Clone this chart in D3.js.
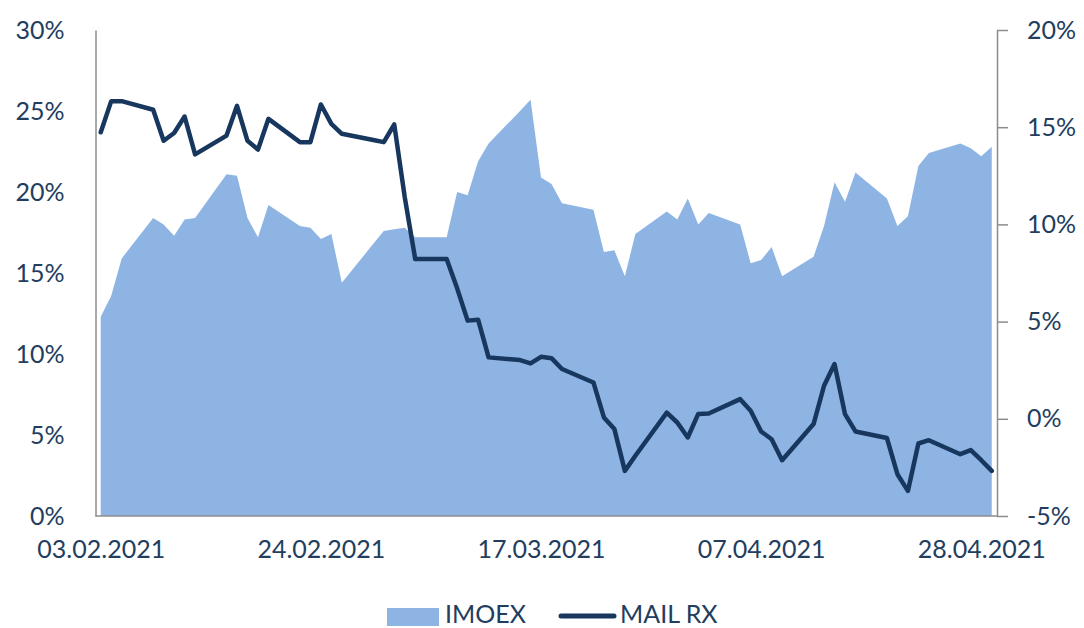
<!DOCTYPE html>
<html>
<head>
<meta charset="utf-8">
<script src="https://cdn.jsdelivr.net/npm/d3@7"></script>
<style>
    html, body { margin: 0; padding: 0; background: #fff; }
    svg text { font-family: Lato, "Noto Sans", sans-serif; fill: #223d5e; }
</style>
</head>
<body>
<svg id="svg-container" width="1084" height="628"></svg>
<script>
var DATES = [
    "03.02.2021", "04.02.2021", "05.02.2021", "08.02.2021", "09.02.2021", "10.02.2021", "11.02.2021", "12.02.2021",
    "15.02.2021", "16.02.2021", "17.02.2021", "18.02.2021", "19.02.2021", "22.02.2021", "23.02.2021", "24.02.2021",
    "25.02.2021", "26.02.2021",
    "01.03.2021", "02.03.2021", "03.03.2021", "04.03.2021", "05.03.2021", "08.03.2021", "09.03.2021", "10.03.2021",
    "11.03.2021", "12.03.2021", "15.03.2021", "16.03.2021", "17.03.2021", "18.03.2021", "19.03.2021", "22.03.2021",
    "23.03.2021", "24.03.2021", "25.03.2021", "26.03.2021", "29.03.2021", "30.03.2021", "31.03.2021",
    "01.04.2021", "02.04.2021", "05.04.2021", "06.04.2021", "07.04.2021", "08.04.2021", "09.04.2021", "12.04.2021",
    "13.04.2021", "14.04.2021", "15.04.2021", "16.04.2021", "19.04.2021", "20.04.2021", "21.04.2021", "22.04.2021",
    "23.04.2021", "26.04.2021", "27.04.2021", "28.04.2021", "29.04.2021"
];

// % change, left axis
var IMOEX = [
    12.3, 13.6, 15.9, 18.4, 18.0, 17.3, 18.3, 18.4, 21.1, 21.0, 18.4, 17.2, 19.2, 17.9, 17.8, 17.1, 17.4, 14.4,
    16.8, 17.6, 17.7, 17.8, 17.2, 17.2, 20.0, 19.8, 21.9, 23.0, 25.0, 25.7, 20.9, 20.5, 19.3, 18.9, 16.3, 16.4,
    14.8, 17.4, 18.8, 18.3, 19.6,
    18.0, 18.7, 18.0, 15.6, 15.8, 16.6, 14.8, 16.0, 17.9, 20.6, 19.4, 21.2, 19.6, 17.9, 18.5, 21.6, 22.4, 23.0,
    22.7, 22.2, 22.8
];

// % change, right axis
var MAIL_RX = [
    14.74, 16.34, 16.34, 15.9, 14.3, 14.7, 15.55, 13.6, 14.57, 16.1, 14.3, 13.85, 15.43, 14.23, 14.23, 16.17,
    15.17, 14.66,
    14.34, 14.23, 15.14, 11.4, 8.22, 8.22, 6.71, 5.05, 5.1, 3.16, 3.02, 2.85, 3.19, 3.12, 2.56, 1.87, 0.07, -0.53,
    -2.68, -1.9, 0.32, -0.19, -0.96,
    0.25, 0.27, 1.01, 0.41, -0.65, -1.05, -2.13, -0.27, 1.7, 2.82, 0.24, -0.65, -0.99, -2.85, -3.71, -1.27, -1.1,
    -1.82, -1.61, -2.13, -2.68
];

var X_TICKS = ["03.02.2021", "24.02.2021", "17.03.2021", "07.04.2021", "28.04.2021"];
var LEFT_TICKS = [0, 5, 10, 15, 20, 25, 30];
var RIGHT_TICKS = [-5, 0, 5, 10, 15, 20];
var LEGEND = ["IMOEX", "MAIL RX"];

var CHART = {
    LEFT: 95.5,
    RIGHT: 997,
    TOP: 30,
    BOTTOM: 516,
    FONT: 25,
    AREA_COLOR: "#8eb4e3",
    LINE_COLOR: "#17375e",
    AXIS_COLOR: "#8c8c8c"
};

var parseDate = d3.utcParse("%d.%m.%Y");
var rows = DATES.map(function (d, i) {
    return { date: parseDate(d), imoex: IMOEX[i], mail: MAIL_RX[i] };
});

var x = d3.scaleUtc()
    .domain([new Date(Date.UTC(2021, 1, 2, 12)), new Date(Date.UTC(2021, 3, 29, 12))])
    .range([CHART.LEFT, CHART.RIGHT]);
var yLeft = d3.scaleLinear().domain([0, 30]).range([CHART.BOTTOM, CHART.TOP]);
var yRight = d3.scaleLinear().domain([-5, 20]).range([CHART.BOTTOM, CHART.TOP]);

var svg = d3.select("#svg-container");

// IMOEX area
svg.append("path")
    .datum(rows)
    .attr("fill", CHART.AREA_COLOR)
    .attr("d", d3.area()
        .x(function (d) { return x(d.date); })
        .y0(yLeft(0))
        .y1(function (d) { return yLeft(d.imoex); }));

// axes
var leftAxis = svg.append("g")
    .attr("transform", "translate(" + CHART.LEFT + ",0)")
    .call(d3.axisLeft(yLeft).tickValues(LEFT_TICKS).tickSize(0).tickPadding(31)
        .tickFormat(function (d) { return d + "%"; }));

var rightAxis = svg.append("g")
    .attr("transform", "translate(" + CHART.RIGHT + ",0)")
    .call(d3.axisRight(yRight).tickValues(RIGHT_TICKS).tickSize(11).tickSizeOuter(0).tickPadding(19)
        .tickFormat(function (d) { return d + "%"; }));

var bottomAxis = svg.append("g")
    .attr("transform", "translate(0," + CHART.BOTTOM + ")")
    .call(d3.axisBottom(x).tickValues(X_TICKS.map(parseDate)).tickSize(0).tickPadding(24)
        .tickFormat(d3.utcFormat("%d.%m.%Y")));

[leftAxis, rightAxis, bottomAxis].forEach(function (g) {
    g.selectAll(".domain").attr("stroke", CHART.AXIS_COLOR).attr("stroke-width", 1.5);
    g.selectAll(".tick line").attr("stroke", CHART.AXIS_COLOR).attr("stroke-width", 1.5);
    g.selectAll(".tick text")
        .attr("font-family", "Lato, 'Noto Sans', sans-serif")
        .attr("font-size", CHART.FONT)
        .attr("fill", "#223d5e");
});
bottomAxis.selectAll(".domain").attr("d", "M" + CHART.LEFT + ",0H" + CHART.RIGHT);

// MAIL RX line
svg.append("path")
    .datum(rows)
    .attr("fill", "none")
    .attr("stroke", CHART.LINE_COLOR)
    .attr("stroke-width", 4.5)
    .attr("stroke-linejoin", "round")
    .attr("stroke-linecap", "round")
    .attr("d", d3.line()
        .x(function (d) { return x(d.date); })
        .y(function (d) { return yRight(d.mail); }));

// legend
var legend = svg.append("g");
legend.append("rect")
    .attr("x", 387).attr("y", 608).attr("width", 52).attr("height", 18)
    .attr("fill", CHART.AREA_COLOR);
legend.append("text")
    .attr("x", 445).attr("y", 623).attr("font-size", CHART.FONT)
    .text(LEGEND[0]);
legend.append("line")
    .attr("x1", 561).attr("x2", 614).attr("y1", 616).attr("y2", 616)
    .attr("stroke", CHART.LINE_COLOR).attr("stroke-width", 5).attr("stroke-linecap", "round");
legend.append("text")
    .attr("x", 620).attr("y", 623).attr("font-size", CHART.FONT)
    .text(LEGEND[1]);
</script>
</body>
</html>
